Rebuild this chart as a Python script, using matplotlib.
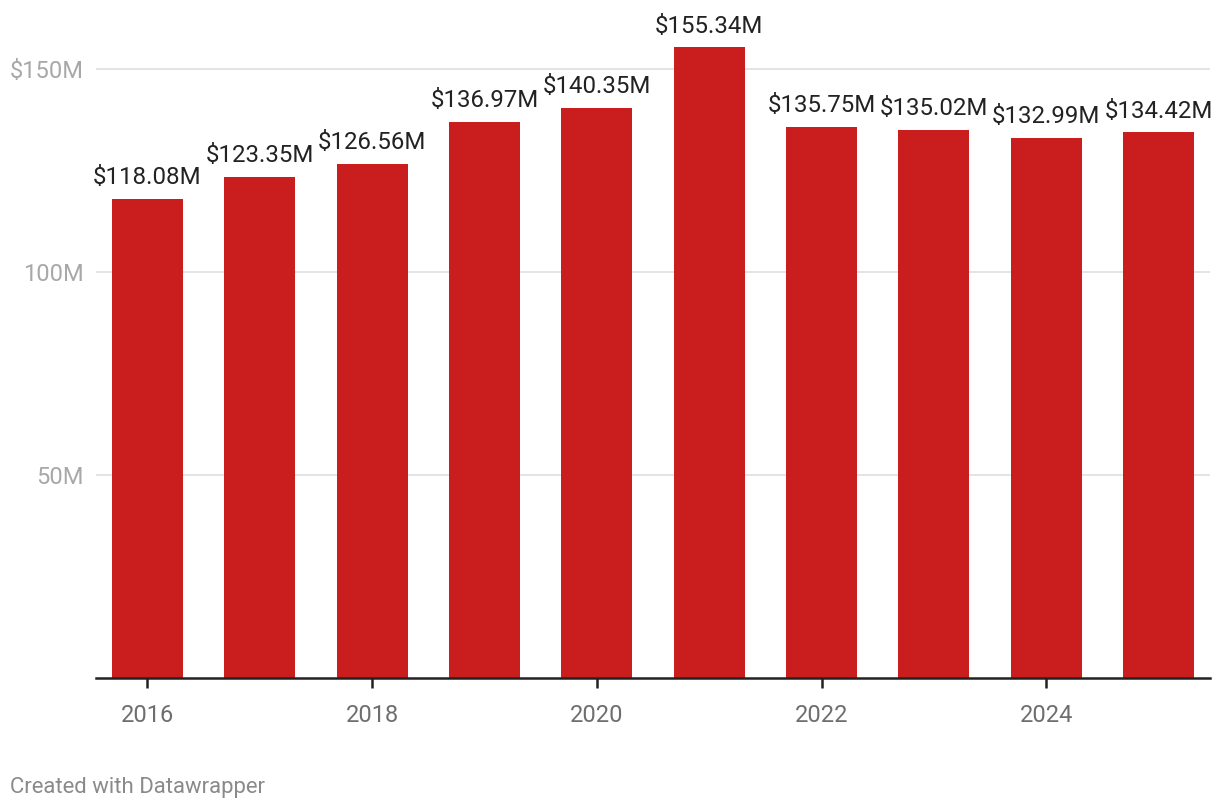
import matplotlib
matplotlib.use("Agg")
import matplotlib.pyplot as plt

years = [2016, 2017, 2018, 2019, 2020, 2021, 2022, 2023, 2024, 2025]
values = [118.08, 123.35, 126.56, 136.97, 140.35, 155.34, 135.75, 135.02, 132.99, 134.42]
labels = ["$118.08M", "$123.35M", "$126.56M", "$136.97M", "$140.35M",
          "$155.34M", "$135.75M", "$135.02M", "$132.99M", "$134.42M"]
yticks = [50, 100, 150]
ytick_labels = ["50M", "100M", "$150M"]
xticks = [2016, 2018, 2020, 2022, 2024]

plt.rcParams['font.family'] = ['Roboto', 'DejaVu Sans']

fig = plt.figure(figsize=(12.2, 8.1), dpi=100)
W, H = 1220, 810
ax = fig.add_axes([96 / W, 132 / H, (1210 - 96) / W, (678 - 20) / H])

ax.bar(years, values, width=0.63, color="#c91d1e", zorder=2)
ax.set_xlim(2015.542, 2025.458)
ax.set_ylim(0, (678 - 20) / 4.06)

for x, v, t in zip(years, values, labels):
    ax.annotate(t, (x, v), xytext=(0, 7), textcoords="offset points",
                ha="center", va="bottom", fontsize=17.3, color="#222222")

ax.set_yticks(yticks)
ax.set_yticklabels(ytick_labels)
ax.set_xticks(xticks)
ax.set_xticklabels([str(x) for x in xticks])
ax.grid(axis="y", color="#e2e2e2", linewidth=1.3, zorder=0)
for s in ["top", "right", "left"]:
    ax.spines[s].set_visible(False)
ax.spines["bottom"].set_color("#222222")
ax.spines["bottom"].set_linewidth(1.8)
ax.tick_params(axis="y", length=0, pad=9, labelsize=17, labelcolor="#a8a8a8")
ax.tick_params(axis="x", length=7, width=1.8, color="#222222", pad=12,
               labelsize=17, labelcolor="#6e6e6e")

fig.text(10 / W, 1 - 787 / H, "Created with Datawrapper", fontsize=15.9,
         color="#8a8a8a", ha="left", va="center")

fig.savefig("out.png", dpi=100)
